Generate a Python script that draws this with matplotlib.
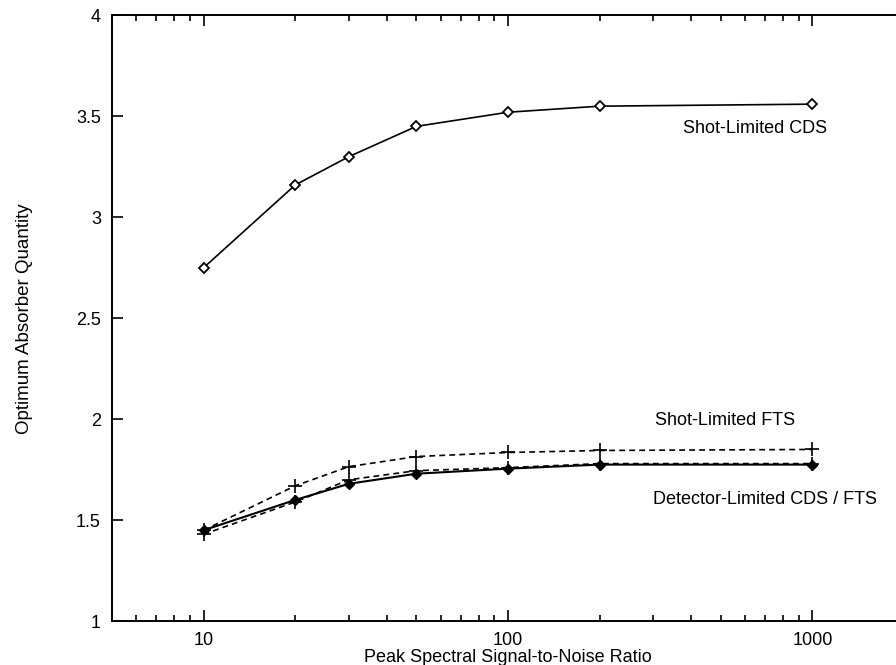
#!/usr/bin/env python

import numpy as np
import matplotlib
matplotlib.use("Agg")
import matplotlib.pyplot as plt
from matplotlib.ticker import LogLocator, NullFormatter, FixedLocator

plt.rcParams['font.family'] = ['Liberation Sans', 'DejaVu Sans']

## data
snr = [10, 20, 30, 50, 100, 200, 1000]
shot_cds = [2.75, 3.16, 3.30, 3.45, 3.52, 3.55, 3.56]
shot_fts = [1.45, 1.67, 1.765, 1.815, 1.835, 1.845, 1.85]
det_cds = [1.45, 1.60, 1.68, 1.73, 1.755, 1.775, 1.775]
det_fts = [1.43, 1.59, 1.70, 1.745, 1.76, 1.78, 1.78]

yticks = [1, 1.5, 2, 2.5, 3, 3.5, 4]
ytick_labels = ['1', '1.5', '2', '2.5', '3', '3.5', '4']

fs = 13

fig = plt.figure(figsize=(8.96, 6.65), dpi=100)
# right edge of the frame runs just past the page
ax = fig.add_axes([0.125, 0.066, 0.884, 0.911])

dash = (0, (3.5, 2.5))
ax.plot(snr, shot_cds, color='black', lw=1.2, marker='D', ms=5.5,
        mfc='white', mec='black', mew=1.3)
ax.plot(snr, shot_fts, color='black', lw=1.2, ls=dash, marker='+', ms=10, mew=1.2)
ax.plot(snr, det_fts, color='black', lw=1.2, ls=dash, marker='+', ms=10, mew=1.2)
ax.plot(snr, det_cds, color='black', lw=1.5, marker='D', ms=5.5,
        mfc='black', mec='black')

ax.set_xscale('log')
ax.set_xlim(5, 2000)
ax.set_ylim(1, 4)
ax.set_xticks([10, 100, 1000])
ax.set_xticklabels(['10', '100', '1000'])
ax.xaxis.set_minor_locator(LogLocator(base=10, subs=np.arange(2, 10)))
ax.xaxis.set_minor_formatter(NullFormatter())
ax.yaxis.set_major_locator(FixedLocator(yticks))
ax.set_yticklabels(ytick_labels)

ax.tick_params(which='both', direction='in', top=True, right=False,
               labelsize=fs, width=1.2)
ax.tick_params(which='major', length=8, pad=8)
ax.tick_params(which='minor', length=4)
for sp in ax.spines.values():
    sp.set_linewidth(1.4)

ax.text(375, 3.44, 'Shot-Limited CDS', fontsize=fs, va='center')
ax.text(305, 1.995, 'Shot-Limited FTS', fontsize=fs, va='center')
ax.text(300, 1.60, 'Detector-Limited CDS / FTS', fontsize=fs, va='center')

ax.set_xlabel('Peak Spectral Signal-to-Noise Ratio', fontsize=fs, labelpad=0)
ax.set_ylabel('Optimum Absorber Quantity', fontsize=13.5, labelpad=31)

fig.savefig('out.png', dpi=100)
